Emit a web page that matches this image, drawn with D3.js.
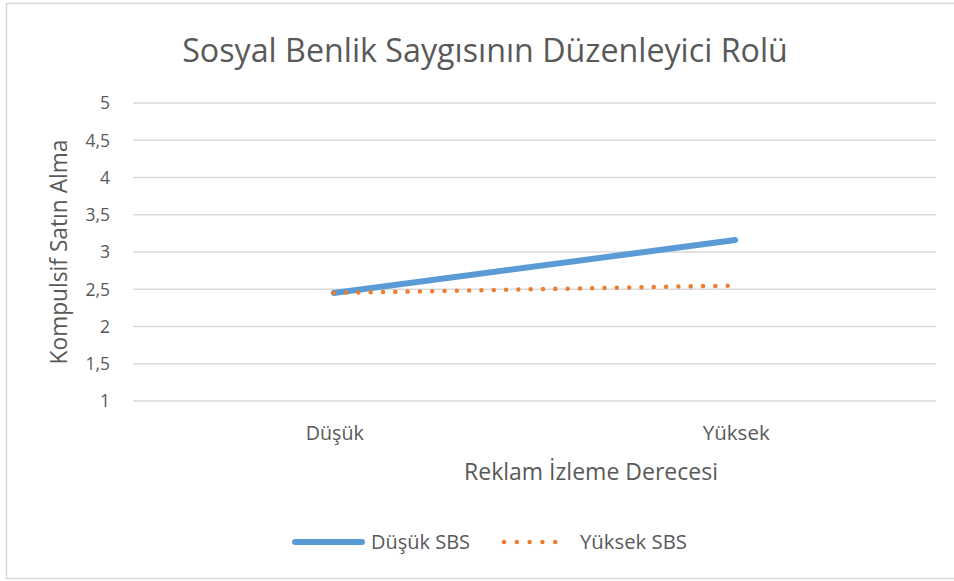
<!DOCTYPE html>
<html><head><meta charset="utf-8">
<script src="https://cdn.jsdelivr.net/npm/d3@7"></script>
<style>body{margin:0;background:#fff}svg{display:block}text{font-family:"Open Sans",sans-serif;fill:#595959}</style>
</head><body>
<script>
const categories = ["Düşük", "Yüksek"];
const seriesNames = ["Düşük SBS", "Yüksek SBS"];
const dusukSBS = [2.45, 3.16];
const yuksekSBS = [2.45, 2.55];
const yTicks = [1, 1.5, 2, 2.5, 3, 3.5, 4, 4.5, 5];
const title = "Sosyal Benlik Saygısının Düzenleyici Rolü";
const xTitle = "Reklam İzleme Derecesi";
const yTitle = "Kompulsif Satın Alma";

(function(){
const W = 954, H = 581;
const svg = d3.select("body").append("svg").attr("width", W).attr("height", H);
svg.append("rect").attr("x", 6.5).attr("y", 3.5).attr("width", 960).attr("height", 575)
  .attr("fill", "#fff").attr("stroke", "#d9d9d9").attr("stroke-width", 1.5);

const pL = 133, pR = 936, pT = 103, pB = 401;
const x = d3.scaleBand().domain(categories).range([pL, pR]);
const y = d3.scaleLinear().domain([1, 5]).range([pB, pT]);

function fit(sel, w) {
  const n = sel.node(); const fs = parseFloat(sel.attr("font-size"));
  const l = n.getComputedTextLength(); if (l > 0) sel.attr("font-size", fs * w / l);
}

svg.append("g").selectAll("line").data(yTicks).join("line")
  .attr("x1", pL).attr("x2", pR).attr("y1", d => y(d)).attr("y2", d => y(d))
  .attr("stroke", "#d9d9d9").attr("stroke-width", 1.3);

const fmt = d => String(d).replace(".", ",");
svg.append("g").selectAll("text").data(yTicks).join("text")
  .attr("x", 110).attr("y", d => y(d)).attr("dy", "0.36em").attr("text-anchor", "end")
  .attr("font-size", 17.5).text(fmt);

svg.append("g").selectAll("text").data(categories).join("text")
  .attr("x", d => x(d) + x.bandwidth() / 2 + 1).attr("y", 433).attr("dy", "0.35em")
  .attr("text-anchor", "middle").attr("font-size", 17.5).text(d => d)
  .each(function(d){ fit(d3.select(this), d === "Düşük" ? 58 : 67); });

const t = svg.append("text").attr("x", 485).attr("y", 62).attr("text-anchor", "middle")
  .attr("font-size", 30).text(title);
fit(t, 606);
const xt = svg.append("text").attr("x", 591).attr("y", 472).attr("dy", "0.35em").attr("text-anchor", "middle")
  .attr("font-size", 19).text(xTitle);
fit(xt, 254);
const yt = svg.append("text").attr("transform", "translate(59,252) rotate(-90)").attr("dy", "0.35em")
  .attr("text-anchor", "middle").attr("font-size", 19).text(yTitle);
fit(yt, 225);

const line = d3.line().x((d, i) => x(categories[i]) + x.bandwidth() / 2).y(d => y(d));
svg.append("path").datum(dusukSBS).attr("d", line).attr("fill", "none")
  .attr("stroke", "#5b9bd5").attr("stroke-width", 6).attr("stroke-linecap", "round");
svg.append("path").datum(yuksekSBS).attr("d", line).attr("fill", "none")
  .attr("stroke", "#ed7d31").attr("stroke-width", 4.5).attr("stroke-linecap", "round")
  .attr("stroke-dasharray", "0.01 12.3");

const ly = 542;
svg.append("line").attr("x1", 295).attr("x2", 362).attr("y1", ly).attr("y2", ly)
  .attr("stroke", "#5b9bd5").attr("stroke-width", 6).attr("stroke-linecap", "round");
const l1 = svg.append("text").attr("x", 371).attr("y", ly).attr("dy", "0.35em").attr("font-size", 17.5).text(seriesNames[0]);
fit(l1, 99);
svg.append("line").attr("x1", 504).attr("x2", 568).attr("y1", ly).attr("y2", ly)
  .attr("stroke", "#ed7d31").attr("stroke-width", 4.5).attr("stroke-linecap", "round")
  .attr("stroke-dasharray", "0.01 12.8");
const l2 = svg.append("text").attr("x", 580).attr("y", ly).attr("dy", "0.35em").attr("font-size", 17.5).text(seriesNames[1]);
fit(l2, 107);
})();
</script>
</body></html>
